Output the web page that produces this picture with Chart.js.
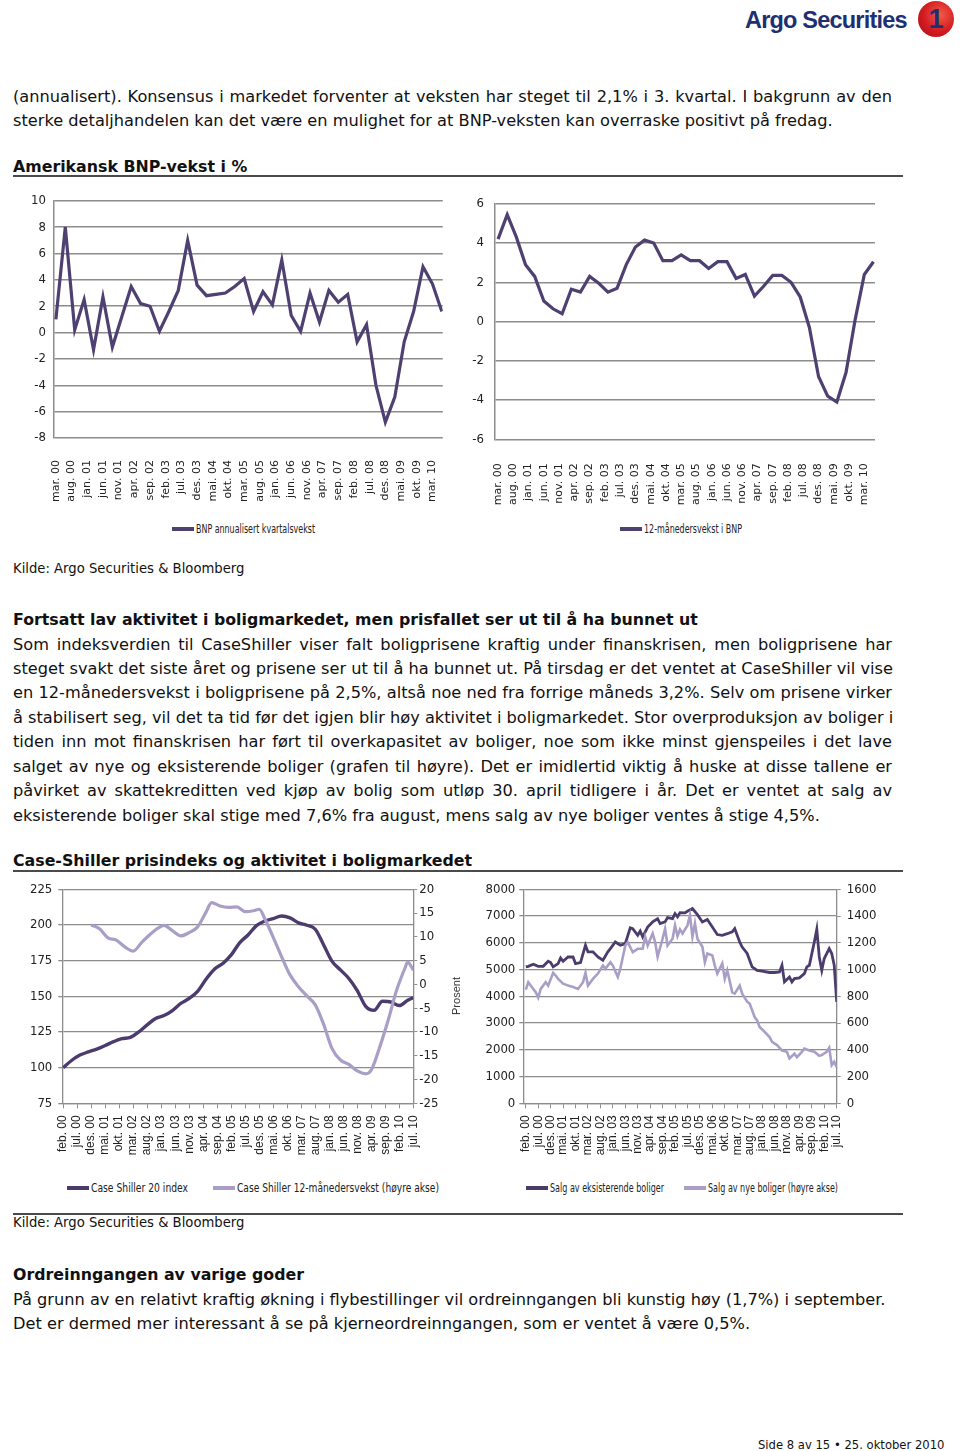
<!DOCTYPE html>
<html lang="no">
<head>
<meta charset="utf-8">
<title>Amerikansk BNP-vekst og Case-Shiller</title>
<script src="https://cdn.jsdelivr.net/npm/chart.js@4.4.1/dist/chart.umd.min.js"></script>
<style>
  html, body { margin: 0; padding: 0; background: #fff; }
  body { width: 960px; height: 1451px; position: relative; overflow: hidden;
         font-family: 'DejaVu Sans', Verdana, sans-serif; color: #111; }
  .t { position: absolute; left: 13px; white-space: nowrap; font-size: 16.2px; line-height: 24px; }
  .j { width: 879px; text-align: justify; text-align-last: justify; }
  .b { font-weight: bold; font-size: 15.8px; }
  .rule { position: absolute; left: 13px; width: 890px; height: 2px; background: #4a4a4a; }
  .src { position: absolute; left: 13px; font-size: 13.2px; line-height: 16px; white-space: nowrap; }
  canvas { position: absolute; }
  .lg { position: absolute; font-family: 'Liberation Sans Narrow', 'DejaVu Sans Condensed', sans-serif;
        font-size: 12px; line-height: 14px; white-space: nowrap; color: #222; }
  .lg i { display: inline-block; width: 22px; height: 4px; vertical-align: middle; margin-right: 2px; margin-top: -2px; }
  .lg span { display: inline-block; transform-origin: left center; }
  .brand { position: absolute; left: 745px; top: 7px; font: bold 23.5px 'Liberation Sans', Arial, sans-serif;
           color: #1d3071; letter-spacing: -0.8px; }
  .badge { position: absolute; left: 918px; top: 1px; width: 36px; height: 36px; border-radius: 50%;
           background: radial-gradient(circle at 62% 38%, #f25a48 0%, #d21a1f 55%, #a80f14 100%);
           color: #1d3071; font: bold 27px 'Liberation Sans', Arial, sans-serif; text-align: center; line-height: 36px; }
  .pros { position: absolute; left: 434px; top: 990px; width: 44px; text-align: center; font: 11px 'Liberation Sans', Arial, sans-serif;
          color: #333; transform: rotate(-90deg); }
  .foot { position: absolute; left: 758px; top: 1437px; font-size: 11.6px; line-height: 16px; white-space: nowrap; }
</style>
</head>
<body>
<span class="brand">Argo Securities</span>
<span class="badge">1</span>

<div class="t j" style="top:85px">(annualisert). Konsensus i markedet forventer at veksten har steget til 2,1% i 3. kvartal. I bakgrunn av den</div>
<div class="t" style="top:109px">sterke detaljhandelen kan det være en mulighet for at BNP-veksten kan overraske positivt på fredag.</div>

<div class="t b" style="top:155px">Amerikansk BNP-vekst i %</div>
<div class="rule" style="top:175px"></div>

<canvas id="bnpQ" width="460" height="320" style="left:0;top:185px"></canvas>
<canvas id="bnpY" width="440" height="320" style="left:460px;top:185px"></canvas>
<div class="lg" style="left:172px;top:522px"><i style="background:#4e4171"></i><span data-w="119">BNP annualisert kvartalsvekst</span></div>
<div class="lg" style="left:620px;top:522px"><i style="background:#4e4171"></i><span data-w="98">12-månedersvekst i BNP</span></div>

<div class="src" style="top:561px">Kilde: Argo Securities &amp; Bloomberg</div>

<div class="t b" style="top:608px">Fortsatt lav aktivitet i boligmarkedet, men prisfallet ser ut til å ha bunnet ut</div>
<div class="t j" style="top:633px">Som indeksverdien til CaseShiller viser falt boligprisene kraftig under finanskrisen, men boligprisene har</div>
<div class="t j" style="top:657px">steget svakt det siste året og prisene ser ut til å ha bunnet ut. På tirsdag er det ventet at CaseShiller vil vise</div>
<div class="t j" style="top:681px">en 12-månedersvekst i boligprisene på 2,5%, altså noe ned fra forrige måneds 3,2%. Selv om prisene virker</div>
<div class="t j" style="top:706px">å stabilisert seg, vil det ta tid før det igjen blir høy aktivitet i boligmarkedet. Stor overproduksjon av boliger i</div>
<div class="t j" style="top:730px">tiden inn mot finanskrisen har ført til overkapasitet av boliger, noe som ikke minst gjenspeiles i det lave</div>
<div class="t j" style="top:755px">salget av nye og eksisterende boliger (grafen til høyre). Det er imidlertid viktig å huske at disse tallene er</div>
<div class="t j" style="top:779px">påvirket av skattekreditten ved kjøp av bolig som utløp 30. april tidligere i år. Det er ventet at salg av</div>
<div class="t" style="top:804px">eksisterende boliger skal stige med 7,6% fra august, mens salg av nye boliger ventes å stige 4,5%.</div>

<div class="t b" style="top:849px">Case-Shiller prisindeks og aktivitet i boligmarkedet</div>
<div class="rule" style="top:870px"></div>

<canvas id="caseShiller" width="470" height="290" style="left:0;top:875px"></canvas>
<canvas id="homeSales" width="445" height="290" style="left:470px;top:875px"></canvas>
<div class="pros">Prosent</div>
<div class="lg" style="left:67px;top:1181px"><i style="background:#4b3b6b"></i><span data-w="97">Case Shiller 20 index</span></div>
<div class="lg" style="left:213px;top:1181px"><i style="background:#a99fc6"></i><span data-w="202">Case Shiller 12-månedersvekst (høyre akse)</span></div>
<div class="lg" style="left:526px;top:1181px"><i style="background:#4b3b6b"></i><span data-w="114">Salg av eksisterende boliger</span></div>
<div class="lg" style="left:684px;top:1181px"><i style="background:#a99fc6"></i><span data-w="130">Salg av nye boliger (høyre akse)</span></div>

<div class="rule" style="top:1213px"></div>
<div class="src" style="top:1215px">Kilde: Argo Securities &amp; Bloomberg</div>

<div class="t b" style="top:1263px">Ordreinngangen av varige goder</div>
<div class="t" style="top:1288px">På grunn av en relativt kraftig økning i flybestillinger vil ordreinngangen bli kunstig høy (1,7%) i september.</div>
<div class="t" style="top:1312px">Det er dermed mer interessant å se på kjerneordreinngangen, som er ventet å være 0,5%.</div>

<div class="foot">Side 8 av 15 • 25. oktober 2010</div>

<script>
// BNP, kvartalsvis fra mar. 00 (hver verdi er 3 måneder fra forrige)
const bnpTickLabels = ['mar. 00','aug. 00','jan. 01','jun. 01','nov. 01','apr. 02','sep. 02','feb. 03','jul. 03','des. 03',
  'mai. 04','okt. 04','mar. 05','aug. 05','jan. 06','jun. 06','nov. 06','apr. 07','sep. 07','feb. 08','jul. 08','des. 08',
  'mai. 09','okt. 09','mar. 10'];
const bnpQuarterly = [1.0, 8.0, 0.2, 2.5, -1.3, 2.7, -1.1, 1.2, 3.5, 2.2, 2.0, 0.1, 1.6, 3.2, 7.0, 3.6, 2.8, 2.9, 3.0, 3.5, 4.1,
  1.6, 3.1, 2.1, 5.5, 1.3, 0.1, 3.0, 0.8, 3.2, 2.3, 2.9, -0.7, 0.6, -4.0, -6.8, -4.9, -0.7, 1.6, 5.0, 3.7, 1.6];
const bnpYearly = [4.2, 5.45, 4.3, 2.9, 2.3, 1.05, 0.65, 0.4, 1.65, 1.5, 2.3, 1.95, 1.5, 1.7, 2.9, 3.8, 4.15, 4.0, 3.1, 3.1, 3.4,
  3.1, 3.1, 2.7, 3.05, 3.05, 2.2, 2.4, 1.3, 1.8, 2.35, 2.35, 2.0, 1.25, -0.3, -2.8, -3.8, -4.1, -2.6, 0.1, 2.4, 3.05];

// boligmarkedet, måneder fra feb. 00
const houseTickLabels = ['feb. 00','jul. 00','des. 00','mai. 01','okt. 01','mar. 02','aug. 02','jan. 03','jun. 03','nov. 03',
  'apr. 04','sep. 04','feb. 05','jul. 05','des. 05','mai. 06','okt. 06','mar. 07','aug. 07','jan. 08','jun. 08','nov. 08',
  'apr. 09','sep. 09','feb. 10','jul. 10'];
const csMonths = [0,3,6,9,12,15,18,21,24,27,30,33,36,39,42,45,48,51,54,57,60,63,66,69,72,75,78,81,84,87,90,93,96,99,102,105,
  108,111,114,117,120,123,125];
const csIndex = [100, 105, 108.8, 111, 113, 115.5, 118.2, 120.3, 121.2, 125, 130, 134.5, 136.5, 140, 145, 148.5, 153.5, 162,
  169, 173, 179, 187.5, 193, 199.5, 202.8, 204.5, 206.3, 205, 201.5, 199.8, 197, 186, 174.5, 168.5, 162.5, 154, 143, 140.2,
  146.5, 146, 143.5, 147.2, 149];
const csGrowthMonths = [10,13,16,19,22,25,28,31,34,36,39,42,45,48,51,53,56,59,62,65,68,70,72,75,78,81,84,87,90,93,96,99,102,
  105,108,110,113,116,119,122,123,125];
const csGrowth = [12.5, 11.7, 9.8, 9.3, 7.9, 7.0, 8.8, 10.5, 11.9, 12.4, 11.3, 10.2, 10.9, 12.1, 15.2, 17.2, 16.5, 16.2, 16.3,
  15.3, 15.5, 15.8, 13.8, 9.9, 5.8, 2.0, -0.5, -2.4, -4.3, -8.4, -13.5, -15.9, -16.8, -18.2, -18.8, -18.0, -13.2, -7.6, -1.3,
  3.4, 4.7, 3.0];
const existingMonths = [0,1,3,5,7,9,10,11,13,14,15,17,19,20,22,24,25,27,29,31,33,34,36,38,40,42,43,45,46,47,49,51,53,54,56,57,
  59,60,61,62,64,65,67,69,71,73,75,77,79,81,83,84,86,87,89,91,93,95,98,100,102,103,104,106,107,108,110,112,113,114,116,117,
  118,119,120,122,123,124,125];
const existingSales = [5100,5120,5200,5120,5120,5310,5260,5100,5220,5430,5310,5470,5470,5220,5260,5910,5660,5660,5470,5350,
  5660,5780,6030,5910,5970,6560,6530,6280,6440,6220,6590,6780,6900,6720,6780,6940,6900,7090,6970,7130,7120,7180,7280,7050,
  6780,6870,6590,6310,6280,6340,6410,6530,6030,5840,5600,5100,4970,4940,4890,4890,4910,5160,4540,4720,4540,4660,4690,4850,
  5100,5160,6030,6510,5470,4970,5410,5780,5600,5160,3790];
const newMonths = [0,1,3,4,5,6,8,9,11,12,13,15,17,19,21,23,24,25,27,29,31,32,34,35,37,38,40,41,43,45,47,48,49,51,52,53,55,56,
  57,59,60,61,62,63,65,66,67,68,69,71,72,73,75,76,77,79,80,81,83,84,86,87,89,90,92,93,94,96,98,99,101,103,105,106,108,109,
  111,112,114,116,118,119,121,122,123,124,125];
const newSales = [850,905,855,830,790,855,905,880,975,955,930,895,880,870,855,905,975,880,930,970,1030,1005,1055,1030,945,1005,
  1180,1205,1130,1155,1155,1245,1180,1270,1205,1095,1230,1305,1180,1230,1330,1250,1300,1270,1330,1405,1245,1345,1230,1170,
  1055,1120,1105,1030,970,1045,930,995,830,820,880,820,760,745,645,620,570,535,495,460,435,395,385,335,370,345,385,410,395,
  385,355,360,385,415,285,310,270];

const dark = '#4b3c6d';
const light = '#a99fc6';
const gridGray = '#8c8c8c';
const narrow = "'Liberation Sans Narrow', 'DejaVu Sans Condensed', sans-serif";

// legend texts are squeezed like the narrow font in the original
document.querySelectorAll('.lg span').forEach(el => {
  const w = +el.dataset.w;
  el.style.transform = 'scaleX(' + (w / el.getBoundingClientRect().width) + ')';
});

function pairs(xs, ys) {
  return ys.map((y, i) => ({ x: xs[i], y: y }));
}
function fixedWidth(w) { return s => { s.width = w; }; }
function fixedHeight(h) { return s => { s.height = h; }; }
function everyFifth(labels) {
  return s => { s.ticks = labels.map((_, i) => ({ value: i * 5 })); };
}
const plain = v => String(v);

function bnpChart(id, values, opt) {
  new Chart(document.getElementById(id), {
    type: 'line',
    data: {
      datasets: [{
        data: pairs(values.map((_, i) => i * 3), values),
        borderColor: '#4e4171', borderWidth: 3.2, pointRadius: 0, tension: 0
      }]
    },
    options: {
      responsive: false, animation: false, devicePixelRatio: 1,
      layout: { padding: opt.padding },
      plugins: { legend: { display: false }, tooltip: { enabled: false } },
      scales: {
        x: {
          type: 'linear', min: opt.xMin, max: opt.xMax,
          afterBuildTicks: everyFifth(bnpTickLabels), afterFit: fixedHeight(opt.xHeight),
          grid: { display: false }, border: { display: false },
          ticks: { autoSkip: false, minRotation: 90, maxRotation: 90, padding: opt.xPad, color: '#222',
                   font: { family: "'DejaVu Sans', Verdana, sans-serif", size: 11 },
                   callback: (v, i) => bnpTickLabels[i] }
        },
        y: {
          min: opt.yMin, max: opt.yMax, afterFit: fixedWidth(opt.yWidth),
          ticks: { stepSize: 2, padding: opt.yPad, color: '#222', font: { family: narrow, size: 13 }, callback: plain },
          grid: { color: gridGray, lineWidth: 1.5, drawTicks: false },
          border: { color: gridGray, width: 1.5 }
        }
      }
    }
  });
}

bnpChart('bnpQ', bnpQuarterly, {
  padding: { left: 0, right: 14, top: 11, bottom: 0 },
  xMin: -0.6, xMax: 123.3, xHeight: 67, xPad: 14, yMin: -8, yMax: 10, yWidth: 54, yPad: 8
});
bnpChart('bnpY', bnpYearly, {
  padding: { left: 0, right: 25, top: 16.7, bottom: 0 },
  xMin: -1, xMax: 123.5, xHeight: 65.7, xPad: 16, yMin: -6, yMax: 6, yWidth: 35, yPad: 11
});

function houseChart(id, sets, opt) {
  new Chart(document.getElementById(id), {
    type: 'line',
    data: { datasets: sets },
    options: {
      responsive: false, animation: false, devicePixelRatio: 1,
      layout: { padding: { left: 0, right: opt.right, top: 14.3, bottom: 0 } },
      plugins: { legend: { display: false }, tooltip: { enabled: false } },
      scales: {
        x: {
          type: 'linear', min: opt.xMin, max: 125,
          afterBuildTicks: everyFifth(houseTickLabels), afterFit: fixedHeight(61.7),
          grid: { drawOnChartArea: false, drawTicks: true, tickLength: 5, color: gridGray },
          border: { color: gridGray, width: 1.3 },
          ticks: { autoSkip: false, minRotation: 90, maxRotation: 90, padding: 7, color: '#222',
                   font: { family: "'Liberation Sans', Arial, sans-serif", size: 12 },
                   callback: (v, i) => houseTickLabels[i] }
        },
        y: {
          position: 'left', min: opt.yMin, max: opt.yMax, afterFit: fixedWidth(opt.yWidth),
          ticks: { stepSize: opt.yStep, padding: opt.yPad, color: '#222', font: { family: narrow, size: 13 }, callback: plain },
          grid: { color: gridGray, lineWidth: 1.3, tickLength: 4 },
          border: { color: gridGray, width: 1.3 }
        },
        y1: {
          position: 'right', min: opt.y1Min, max: opt.y1Max, afterFit: fixedWidth(opt.y1Width),
          ticks: { stepSize: opt.y1Step, padding: opt.y1Pad, color: '#222', font: { family: narrow, size: 13 }, callback: plain },
          grid: { drawOnChartArea: false, tickLength: 4, color: gridGray },
          border: { color: gridGray, width: 1.3 }
        }
      }
    }
  });
}

houseChart('caseShiller', [
  { data: pairs(csGrowthMonths, csGrowth), yAxisID: 'y1', borderColor: light, borderWidth: 3.2, pointRadius: 0,
    cubicInterpolationMode: 'monotone' },
  { data: pairs(csMonths, csIndex), yAxisID: 'y', borderColor: dark, borderWidth: 3.4, pointRadius: 0,
    cubicInterpolationMode: 'monotone' }
], { right: 0, xMin: -0.3, yMin: 75, yMax: 225, yStep: 25, yWidth: 62.3, yPad: 6,
     y1Min: -25, y1Max: 20, y1Step: 5, y1Width: 56.7, y1Pad: 2 });

houseChart('homeSales', [
  { data: pairs(newMonths, newSales), yAxisID: 'y1', borderColor: light, borderWidth: 2.6, pointRadius: 0, tension: 0 },
  { data: pairs(existingMonths, existingSales), yAxisID: 'y', borderColor: dark, borderWidth: 2.8, pointRadius: 0, tension: 0 }
], { right: 28.3, xMin: -1, yMin: 0, yMax: 8000, yStep: 1000, yWidth: 53.3, yPad: 4,
     y1Min: 0, y1Max: 1600, y1Step: 200, y1Width: 50, y1Pad: 6 });
</script>
</body>
</html>
